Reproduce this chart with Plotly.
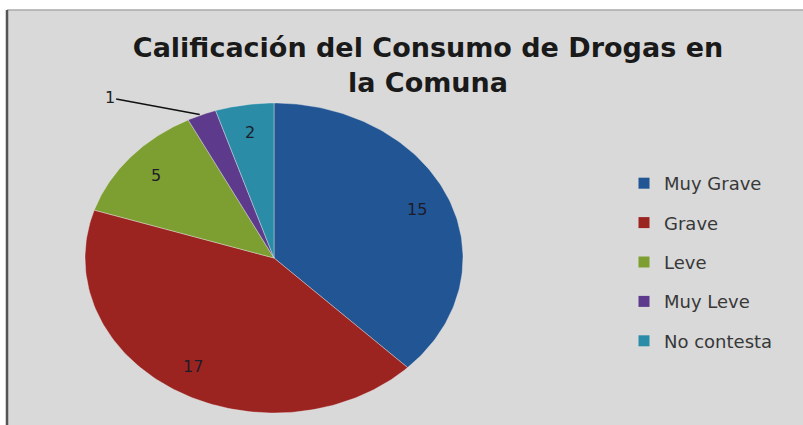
import numpy as np
import plotly.graph_objects as go

# ---- data ----
categories = ["Muy Grave", "Grave", "Leve", "Muy Leve", "No contesta"]
values = [15, 17, 5, 1, 2]
colors = ["#215594", "#9c2420", "#7d9f31", "#5d3a8c", "#2a8ca6"]
title_text = "Calificación del Consumo de Drogas en<br>la Comuna"

# ---- layout geometry (pixel-like axis units) ----
W, H = 803, 425
cx, cy = 274, 258
rx, ry = 189, 155
label_frac = 0.82

fig = go.Figure()

total = float(sum(values))
start = 90.0  # degrees, 12 o'clock, clockwise
for cat, val, col in zip(categories, values, colors):
    sweep = 360.0 * val / total
    end = start - sweep
    t = np.radians(np.linspace(start, end, 120))
    xs = np.concatenate([[cx], cx + rx * np.cos(t), [cx]])
    ys = np.concatenate([[cy], cy - ry * np.sin(t), [cy]])
    fig.add_trace(go.Scatter(
        x=xs, y=ys, mode="lines", fill="toself", fillcolor=col,
        line=dict(color="rgba(235,235,235,0.5)", width=0.8),
        showlegend=False, hoverinfo="skip", name=cat))
    mid = np.radians((start + end) / 2)
    if val / total < 0.04:
        ex = cx + rx * np.cos(mid)
        ey = cy - ry * np.sin(mid)
        fig.add_annotation(x=ex, y=ey, text=str(val), showarrow=True,
                           ax=-92, ay=-17, arrowhead=0, arrowwidth=1.5,
                           arrowcolor="#111111", standoff=2,
                           font=dict(family="DejaVu Sans", size=16, color="#222222"))
    else:
        lx = cx + label_frac * rx * np.cos(mid)
        ly = cy - label_frac * ry * np.sin(mid)
        fig.add_annotation(x=lx, y=ly, text=str(val), showarrow=False,
                           font=dict(family="DejaVu Sans", size=16, color="#1c1c2a"))
    start = end

# legend entries
for i, (cat, col) in enumerate(zip(categories, colors)):
    fig.add_trace(go.Scatter(
        x=[None], y=[None], mode="markers", name=cat, legendgroup=f"g{i}",
        marker=dict(symbol="square", size=11, color=col)))

fig.update_layout(
    width=W, height=H,
    margin=dict(l=0, r=0, t=0, b=0),
    paper_bgcolor="white", plot_bgcolor="rgba(0,0,0,0)",
    xaxis=dict(range=[0, W], visible=False, fixedrange=True),
    yaxis=dict(range=[H, 0], visible=False, fixedrange=True),
    title=dict(text=title_text, x=428 / W, xanchor="center",
               y=1 - 57 / H, yanchor="top", yref="container",
               font=dict(family="DejaVu Sans", size=27, color="#1a1a1a", weight="bold")),
    legend=dict(x=624 / W, xanchor="left", y=1 - 165 / H, yanchor="top",
                font=dict(family="DejaVu Sans", size=18, color="#383838"),
                tracegroupgap=13, bgcolor="rgba(0,0,0,0)", itemwidth=30),
    shapes=[
        dict(type="rect", xref="paper", yref="paper", x0=7 / W, x1=1, y0=0, y1=1 - 10 / H,
             fillcolor="#d9d9d9", line=dict(width=0), layer="below"),
        dict(type="line", xref="paper", yref="paper", x0=7 / W, x1=1, y0=1 - 10 / H, y1=1 - 10 / H,
             line=dict(color="#a8a8a8", width=1.5), layer="below"),
        dict(type="line", xref="paper", yref="paper", x0=7 / W, x1=7 / W, y0=0, y1=1 - 10 / H,
             line=dict(color="#555555", width=2.5), layer="below"),
    ],
)

fig.write_html("out.html", config={"displayModeBar": False},
               post_script="document.body.style.margin='0';document.body.style.padding='0';")
